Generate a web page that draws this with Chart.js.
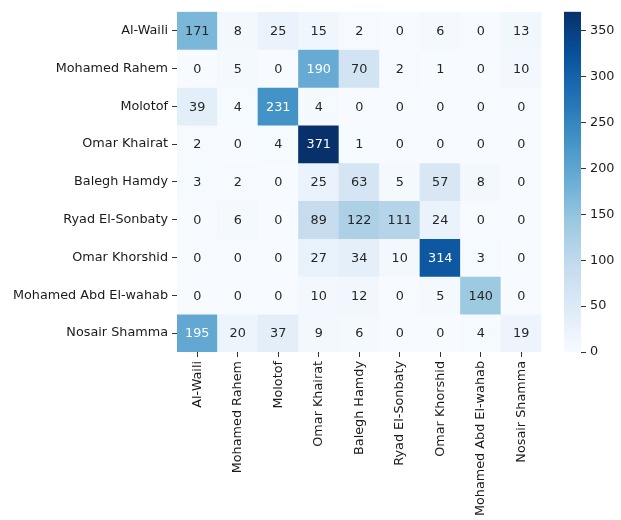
<!DOCTYPE html>
<html>
<head>
<meta charset="utf-8">
<script src="https://cdn.jsdelivr.net/npm/chart.js@4"></script>
<style>
  body { margin: 0; background: #fff; }
  #wrap { position: relative; width: 621px; height: 520px; }
  #heat { position: absolute; left: 0; top: 0; }
  #cbar { position: absolute; left: 541px; top: 0; }
</style>
</head>
<body>
<div id="wrap">
  <canvas id="heat" width="560" height="520"></canvas>
  <canvas id="cbar" width="80" height="520"></canvas>
</div>
<script>
const labels = ['Al-Waili', 'Mohamed Rahem', 'Molotof', 'Omar Khairat', 'Balegh Hamdy',
    'Ryad El-Sonbaty', 'Omar Khorshid', 'Mohamed Abd El-wahab', 'Nosair Shamma'];

// one row per true label, columns are predicted labels
const alWaili = [171, 8, 25, 15, 2, 0, 6, 0, 13];
const mohamedRahem = [0, 5, 0, 190, 70, 2, 1, 0, 10];
const molotof = [39, 4, 231, 4, 0, 0, 0, 0, 0];
const omarKhairat = [2, 0, 4, 371, 1, 0, 0, 0, 0];
const baleghHamdy = [3, 2, 0, 25, 63, 5, 57, 8, 0];
const ryadElSonbaty = [0, 6, 0, 89, 122, 111, 24, 0, 0];
const omarKhorshid = [0, 0, 0, 27, 34, 10, 314, 3, 0];
const mohamedAbdElWahab = [0, 0, 0, 10, 12, 0, 5, 140, 0];
const nosairShamma = [195, 20, 37, 9, 6, 0, 0, 4, 19];

const colorbarTicks = [0, 50, 100, 150, 200, 250, 300, 350];

const rows = [alWaili, mohamedRahem, molotof, omarKhairat, baleghHamdy,
    ryadElSonbaty, omarKhorshid, mohamedAbdElWahab, nosairShamma];
const vmax = Math.max(...rows.flat());

// matplotlib "Blues"
const blues = ['#f7fbff', '#deebf7', '#c6dbef', '#9ecae1', '#6baed6',
    '#4292c6', '#2171b5', '#08519c', '#08306b'];

function hexToRgb(h) {
    return [1, 3, 5].map(i => parseInt(h.substr(i, 2), 16));
}

function bluesRgb(t) {
    t = Math.min(1, Math.max(0, t)) * (blues.length - 1);
    const i = Math.min(Math.floor(t), blues.length - 2);
    const f = t - i;
    const a = hexToRgb(blues[i]);
    const b = hexToRgb(blues[i + 1]);
    return a.map((v, k) => Math.round(v + (b[k] - v) * f));
}

function rgbStr(c) {
    return `rgb(${c[0]}, ${c[1]}, ${c[2]})`;
}

function luminance(c) {
    const lin = c.map(v => {
        v = v / 255;
        return v <= 0.03928 ? v / 12.92 : Math.pow((v + 0.055) / 1.055, 2.4);
    });
    return 0.2126 * lin[0] + 0.7152 * lin[1] + 0.0722 * lin[2];
}

const fontSize = 12.8;
Chart.defaults.font.family = 'DejaVu Sans';
Chart.defaults.font.size = fontSize;
Chart.defaults.color = '#1a1a1a';

const datasets = rows.map((row, r) => ({
    label: labels[r],
    data: row.map(() => [r, r + 1]),
    backgroundColor: row.map(v => rgbStr(bluesRgb(v / vmax))),
    borderWidth: 0,
    barPercentage: 1,
    categoryPercentage: 1,
    grouped: false
}));

const annotate = {
    id: 'annotate',
    afterDatasetsDraw(chart) {
        const { ctx, scales } = chart;
        ctx.save();
        ctx.font = fontSize + 'px "DejaVu Sans"';
        ctx.textAlign = 'center';
        ctx.textBaseline = 'middle';
        rows.forEach((row, r) => {
            row.forEach((v, c) => {
                const lum = luminance(bluesRgb(v / vmax));
                ctx.fillStyle = lum > 0.408 ? '#262626' : '#ffffff';
                ctx.fillText(String(v), scales.x.getPixelForValue(c), scales.y.getPixelForValue(r + 0.5) + 1);
            });
        });
        ctx.restore();
    }
};

new Chart(document.getElementById('heat'), {
    type: 'bar',
    data: { labels: labels, datasets: datasets },
    options: {
        responsive: false,
        animation: false,
        layout: { padding: { top: 6, right: 18.5, left: 0, bottom: 0 } },
        plugins: {
            legend: { display: false },
            tooltip: { enabled: false }
        },
        scales: {
            x: {
                type: 'category',
                afterFit: (s) => { s.height = 168; },
                border: { display: false },
                grid: { offset: false, drawOnChartArea: false, drawTicks: true, tickLength: 5, color: '#000', lineWidth: 0.8 },
                ticks: { minRotation: 90, maxRotation: 90, padding: 4, autoSkip: false }
            },
            y: {
                type: 'linear',
                min: 0,
                max: 9,
                reverse: true,
                afterFit: (s) => { s.width = 177; },
                afterBuildTicks: (s) => { s.ticks = labels.map((_, i) => ({ value: i + 0.5 })); },
                border: { display: false },
                grid: { drawOnChartArea: false, drawTicks: true, tickLength: 5, color: '#000', lineWidth: 0.8 },
                ticks: { padding: 4, callback: (v, i) => labels[i] }
            }
        }
    },
    plugins: [annotate]
});

new Chart(document.getElementById('cbar'), {
    type: 'bar',
    data: {
        labels: [''],
        datasets: [{
            data: [[0, vmax]],
            borderWidth: 0,
            barPercentage: 1,
            categoryPercentage: 1,
            backgroundColor: (ctx) => {
                const area = ctx.chart.chartArea;
                if (!area) return blues[0];
                const g = ctx.chart.ctx.createLinearGradient(0, area.bottom, 0, area.top);
                for (let i = 0; i <= 32; i++) {
                    g.addColorStop(i / 32, rgbStr(bluesRgb(i / 32)));
                }
                return g;
            }
        }]
    },
    options: {
        responsive: false,
        animation: false,
        layout: { padding: { top: 6, right: 0, left: 23, bottom: 168 } },
        plugins: {
            legend: { display: false },
            tooltip: { enabled: false }
        },
        scales: {
            x: { display: false },
            y: {
                position: 'right',
                min: 0,
                max: vmax,
                afterFit: (s) => { s.width = 40; },
                afterBuildTicks: (s) => { s.ticks = colorbarTicks.map(v => ({ value: v })); },
                border: { display: false },
                grid: { drawOnChartArea: false, drawTicks: true, tickLength: 5, color: '#000', lineWidth: 0.8 },
                ticks: { padding: 4 }
            }
        }
    }
});
</script>
</body>
</html>
